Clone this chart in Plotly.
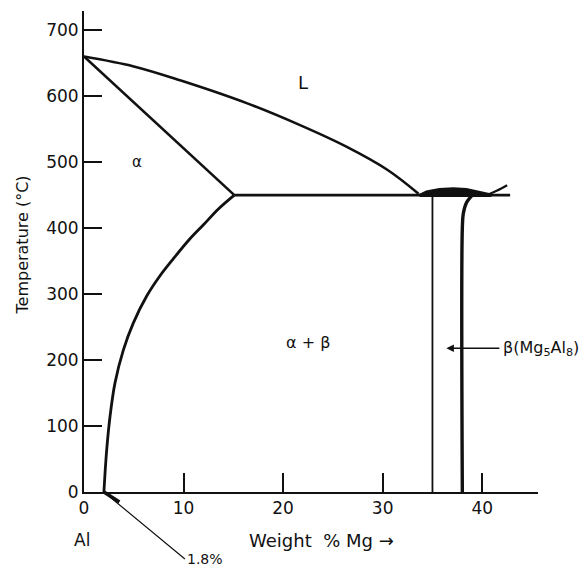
import plotly.graph_objects as go

# ---- data (wt % Mg, temperature °C) ----
liquidus_x = [0, 5, 9.65, 16.4, 21.7, 26.4, 30.5, 33.6]
liquidus_t = [660, 645, 624, 589, 556, 523, 488, 452]

solidus_x = [0, 15.1]
solidus_t = [660, 450]

solvus_x = [15.1, 13.5, 12.0, 10.6, 9.0, 7.6, 6.3, 4.95, 3.95, 3.11, 2.61, 2.28, 2.11, 2.0]
solvus_t = [450, 429, 405, 383, 354, 327, 297, 256, 215, 165, 114, 64, 28, 0]

eutectic_x = [15.1, 42.8]
eutectic_t = [450, 450]

beta_left_x = [35.0, 35.0]
beta_left_t = [450, 0]

beta_right_x = [39.0, 38.4, 38.1, 38.0, 38.0]
beta_right_t = [450, 438, 422, 400, 0]

beta_top_x = [33.7, 34.4, 35.7, 37.1, 38.4, 39.8, 40.8, 40.8, 33.7]
beta_top_t = [450, 455, 459, 460, 459, 455, 451, 449, 449]

fork_x = [40.6, 41.5, 42.5]
fork_t = [451, 457, 465]

limit_x = 2.0      # solubility at room temperature (point marked 1.8%)
limit_t = 0

x_ticks = [0, 10, 20, 30, 40]
y_ticks = [0, 100, 200, 300, 400, 500, 600, 700]

X_RANGE = [0, 45.6]
Y_RANGE = [0, 729]

FONT = "DejaVu Sans"
INK = "#111111"

fig = go.Figure()

def line(x, y, w, shape="linear", **kw):
    fig.add_trace(go.Scatter(x=x, y=y, mode="lines",
                             line=dict(color=INK, width=w, shape=shape),
                             hoverinfo="skip", showlegend=False, **kw))

line(liquidus_x, liquidus_t, 2.6, shape="spline")
line(solidus_x, solidus_t, 2.6)
line(solvus_x, solvus_t, 2.8, shape="spline")
line(eutectic_x, eutectic_t, 2.6)
line(beta_left_x, beta_left_t, 1.8)
line(beta_right_x, beta_right_t, 3.4, shape="spline")
fig.add_trace(go.Scatter(x=beta_top_x, y=beta_top_t, mode="lines", fill="toself",
                         fillcolor=INK, line=dict(color=INK, width=2.5),
                         hoverinfo="skip", showlegend=False))
line(fork_x, fork_t, 2.2, shape="spline")


def px(x):
    return (x - X_RANGE[0]) / (X_RANGE[1] - X_RANGE[0])


def py(y):
    return (y - Y_RANGE[0]) / (Y_RANGE[1] - Y_RANGE[0])


def label(x, y, text, size, xanchor="center", **kw):
    fig.add_annotation(x=px(x), y=py(y), xref="paper", yref="paper", text=text,
                       showarrow=False, xanchor=xanchor, yanchor="middle",
                       font=dict(family=FONT, size=size, color=INK), **kw)

label(22.0, 620, "L", 18)
label(5.3, 500, "α", 15)
label(22.5, 227, "α + β", 16)
label(-0.2, -73, "Al", 17)
label(23.9, -73, "Weight  % Mg →", 18)
label(-6.2, 374, "Temperature (°C)", 16, textangle=-90)

# leader to the 1.8% point
fig.add_annotation(x=limit_x, y=limit_t, xref="x", yref="y", text="1.8%",
                   showarrow=True, ax=81, ay=67, xanchor="left", yanchor="middle",
                   arrowhead=0, arrowwidth=1.2, arrowcolor=INK, standoff=0,
                   font=dict(family=FONT, size=14, color=INK))
fig.add_annotation(x=limit_x, y=limit_t, xref="x", yref="y", text="",
                   showarrow=True, ax=17, ay=11, arrowhead=0, arrowwidth=3.5,
                   arrowcolor=INK, standoff=0, startstandoff=0)

fig.add_annotation(x=36.4, y=218, xref="x", yref="y",
                   text="β(Mg<sub>5</sub>Al<sub>8</sub>)",
                   showarrow=True, ax=55, ay=0, xanchor="left",
                   arrowhead=2, arrowsize=1, arrowwidth=1.5, arrowcolor=INK,
                   standoff=0, startstandoff=2,
                   font=dict(family=FONT, size=16, color=INK))

axis_common = dict(showline=True, linewidth=2, linecolor=INK, ticks="inside",
                   tickwidth=1.5, tickcolor=INK, showgrid=False, zeroline=False,
                   tickfont=dict(family=FONT, size=17, color=INK), mirror=False)

# page body has an 8px margin, so the margins are offset by it
fig.update_layout(
    width=588, height=569, autosize=False,
    margin=dict(l=76, r=58, t=3, b=85),
    paper_bgcolor="white", plot_bgcolor="white",
    xaxis=dict(range=X_RANGE, tickvals=x_ticks, ticklen=19, **axis_common),
    yaxis=dict(range=Y_RANGE, tickvals=y_ticks, ticklen=18, **axis_common),
)

fig.write_html("out.html")
